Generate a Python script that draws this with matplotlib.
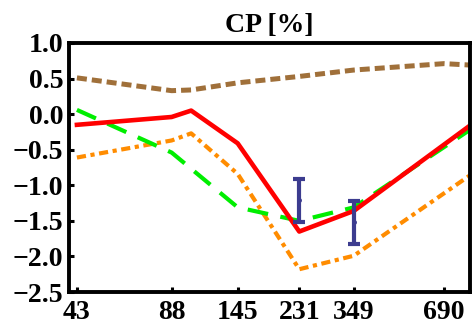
import matplotlib
matplotlib.use("Agg")
import matplotlib.pyplot as plt
from matplotlib.ticker import FixedLocator, NullLocator

plt.rcParams['font.family'] = ['Liberation Serif', 'DejaVu Serif']
plt.rcParams['font.weight'] = 'bold'

# data
x_ticks = [43, 88, 145, 231, 349, 690]
x_tick_labels = ["43", "88", "145", "231", "349", "690"]
y_ticks = [1.0, 0.5, 0.0, -0.5, -1.0, -1.5, -2.0, -2.5]

x_red = [43, 88, 102, 145, 231, 349, 840]
y_red = [-0.15, -0.04, 0.05, -0.41, -1.65, -1.36, -0.16]

x_green = [43, 88, 145, 231, 349, 840]
y_green = [0.06, -0.54, -1.31, -1.50, -1.31, -0.22]

x_orange = [43, 88, 102, 145, 231, 349, 840]
y_orange = [-0.61, -0.37, -0.27, -0.84, -2.18, -1.99, -0.86]

x_brown = [43, 88, 102, 145, 231, 349, 690, 840]
y_brown = [0.51, 0.33, 0.34, 0.44, 0.53, 0.62, 0.71, 0.69]

x_data = [231, 349]
y_data = [-1.21, -1.52]
y_err = [0.30, 0.30]

fig = plt.figure(figsize=(4.74, 3.28), dpi=100)
ax = fig.add_axes([69/474, 1-292/328, (470-69)/474, (292-43)/328])

ax.plot(x_brown, y_brown, color='#a0703a', lw=3.6, dashes=(2.0, 1.0), solid_capstyle='butt')
ax.plot(x_orange, y_orange, color='#ff8c00', lw=3.0, dashes=(2.2, 1.1, 1.0, 1.1))
ax.plot(x_green, y_green, color='#00ee00', lw=3.0, dashes=(5.0, 3.0))
ax.plot(x_red, y_red, color='#ff0000', lw=3.3)
ax.errorbar(x_data, y_data, yerr=y_err, fmt='o', ms=2.5, color='#3c3c8f',
            ecolor='#3c3c8f', elinewidth=3.0, capsize=4.3, capthick=3.0)

ax.set_xscale('log')
ax.set_xlim(40.5, 840)
ax.set_ylim(-2.5, 1.0)
ax.xaxis.set_major_locator(FixedLocator(x_ticks))
ax.xaxis.set_minor_locator(NullLocator())
ax.set_xticklabels(x_tick_labels)
ax.set_yticks(y_ticks)
ax.set_yticklabels(['%.1f' % v if v >= 0 else '\u2212%.1f' % abs(v) for v in y_ticks])

for s in ax.spines.values():
    s.set_linewidth(2.8)
ax.tick_params(axis='both', direction='in', length=3.5, width=2.2, labelsize=20)
ax.tick_params(axis='x', pad=6)
ax.tick_params(axis='y', pad=4)
for lab in ax.get_xticklabels() + ax.get_yticklabels():
    lab.set_fontweight('bold')

ax.set_title('CP [%]', fontsize=20, fontweight='bold', pad=8)

fig.savefig('out.png', dpi=100)
